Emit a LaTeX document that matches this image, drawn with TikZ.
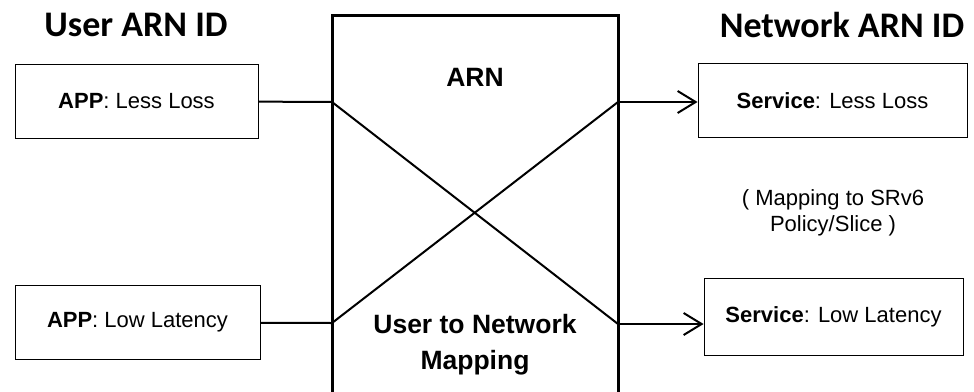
\documentclass[tikz,border=0pt]{standalone}
\usepackage{fontspec}
\setmainfont{Liberation Sans}
\newfontfamily\titlefont{Carlito}
\usetikzlibrary{arrows.meta,positioning}

\begin{document}
\begin{tikzpicture}[x=1pt,y=-1pt,line width=2pt,node distance=4cm]
    \tikzstyle{idbox}=[draw, line width=0.9pt, minimum height=74pt, inner sep=0pt, font=\fontsize{22}{24}\selectfont]
    \tikzstyle{idtitle}=[font=\titlefont\bfseries\fontsize{36}{38}\selectfont]
    \tikzstyle{big}=[font=\bfseries\fontsize{26.5}{36}\selectfont, align=center]
    \tikzstyle{barb}=[-{Straight Barb[length=18pt,width=22pt,line width=2pt]}]
    \useasboundingbox (0,0) rectangle (974,391);

    % titles
    \node[idtitle] (usertitle) at (136,25) {User ARN ID};
    \node[idtitle] (nettitle) at (842,25) {Network ARN ID};

    % boxes
    \node[idbox, minimum width=243pt] (app1) at (136.5,101) {\textbf{APP}: Less Loss};
    \node[idbox, minimum width=245pt] (app2) at (137.5,322.5) {\textbf{APP}: Low Latency};
    \node[idbox, minimum width=269pt] (svc1) at (832.5,100.5) {\textbf{Service}: Less Loss};
    \node[idbox, minimum width=259pt, minimum height=77pt] (svc2) at (833.5,316.5) {\textbf{Service}: Low Latency};

    % ARN box, open at the bottom
    \draw[line width=3pt] (332,400) |- (618,15) -- (618,400);
    \coordinate (in1) at (332,102);
    \coordinate (in2) at (332,323);
    \coordinate (out1) at (618,102);
    \coordinate (out2) at (618,324);

    \node[big] (arn) at (475,77) {ARN};
    \node[big] (map) at (475,345) {User to Network\\Mapping};
    \node[font=\fontsize{22}{26}\selectfont, align=center] (note) at (833,213) {( Mapping to SRv6\\Policy/Slice )};

    % connectors
    \draw (app1) -- (in1);
    \draw (app2) -- (in2);
    \draw[line width=2pt] (in1) -- (out2);
    \draw[line width=2pt] (in2) -- (out1);
    \draw[barb] (out1) -- (svc1.west |- out1);
    \draw[barb] (out2) -- (svc2.west |- out2);
\end{tikzpicture}
\end{document}
